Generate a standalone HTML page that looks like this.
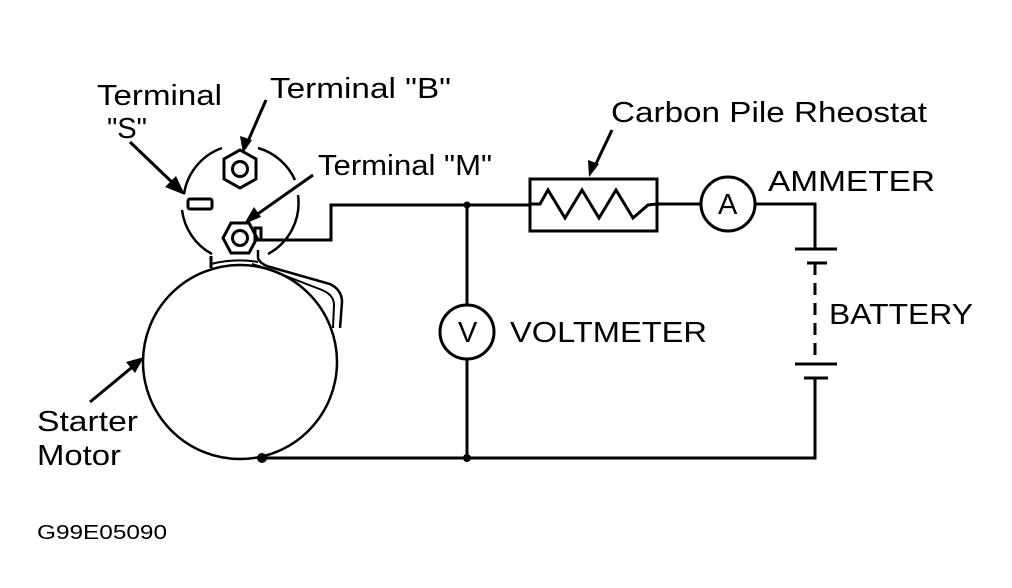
<!DOCTYPE html>
<html><head><style>
html,body{margin:0;padding:0;background:#fff;}
svg{display:block;}
text{font-family:"Liberation Sans",sans-serif;font-size:29px;fill:#000;}
</style></head><body>
<svg width="1012" height="588" viewBox="0 0 1012 588" xmlns="http://www.w3.org/2000/svg">
<g fill="none" stroke="#000" stroke-width="3">
<circle cx="240" cy="362" r="97" stroke-width="2.5"/>
<circle cx="262" cy="458" r="5" fill="#000" stroke="none"/>
<path d="M184,194 A58,58 0 0,1 222,148" stroke-width="2.5"/>
<path d="M258,148 A58,58 0 0,1 295,180" stroke-width="2.5"/>
<path d="M298,195 A58,58 0 0,1 268,254" stroke-width="2.5"/>
<path d="M212,254 A58,58 0 0,1 182,210" stroke-width="2.5"/>
<line x1="211" y1="256" x2="211" y2="268"/>
<path d="M211,264 Q235,258 258,262" stroke-width="2"/>
<path d="M258,250 L258,258 Q260,264 270,267 L330,284 Q342,290 342,302 L340,328" stroke-width="2.5"/>
<path d="M252,264 L265,268 L322,290 Q334,295 334,305 L333,328" stroke-width="2"/>
<rect x="188" y="199" width="24" height="10" rx="2"/>
<polygon points="240,150 256,159 256,179 240,188 224,179 224,159"/>
<circle cx="240" cy="169" r="7.5"/>
<polygon points="223,238 231,223 249,223 257,238 249,253 231,253"/>
<circle cx="240" cy="238" r="7.5"/>
<rect x="255" y="228" width="6" height="12"/>
<polyline points="259,240 331,240 331,205 530,205"/>
<rect x="530" y="179" width="127" height="52"/>
<polyline points="530,204 540,204 548,190 565,218 582,190 599,218 616,190 633,218 648,205 657,204"/>
<line x1="657" y1="204" x2="700" y2="204"/>
<circle cx="728" cy="204" r="27"/>
<polyline points="755,204 815,204 815,249"/>
<line x1="795" y1="249" x2="837" y2="249"/>
<line x1="807" y1="263" x2="827" y2="263"/>
<line x1="815" y1="263" x2="815" y2="358" stroke-dasharray="12,8"/>
<line x1="795" y1="364" x2="837" y2="364"/>
<line x1="804" y1="378" x2="828" y2="378"/>
<polyline points="815,378 815,458 262,458"/>
<line x1="467" y1="205" x2="467" y2="304"/>
<circle cx="467" cy="332" r="27"/>
<line x1="467" y1="360" x2="467" y2="458"/>
<circle cx="467" cy="458" r="2.5" fill="#000"/>
<circle cx="467" cy="205" r="2" fill="#000"/>
<line x1="130" y1="142" x2="176" y2="186"/>
<line x1="266" y1="100" x2="245" y2="148"/>
<line x1="313" y1="175" x2="252" y2="218"/>
<line x1="612" y1="130" x2="594" y2="168"/>
<line x1="90" y1="402" x2="136" y2="364"/>
</g>
<g fill="#000">
<polygon points="185,195 165,187 176,176"/>
<polygon points="243,153 240,136 252,140"/>
<polygon points="244,224 254,207 261,217"/>
<polygon points="589,177 588,160 599,164"/>
<polygon points="144,357 126,362 135,373"/>
</g>
<text x="97" y="105" textLength="125" lengthAdjust="spacingAndGlyphs">Terminal</text>
<text x="107" y="138" textLength="40" lengthAdjust="spacingAndGlyphs">"S"</text>
<text x="270" y="98" textLength="181" lengthAdjust="spacingAndGlyphs">Terminal "B"</text>
<text x="318" y="175" textLength="174" lengthAdjust="spacingAndGlyphs">Terminal "M"</text>
<text x="611" y="122" textLength="316" lengthAdjust="spacingAndGlyphs">Carbon Pile Rheostat</text>
<text x="768" y="191" textLength="167" lengthAdjust="spacingAndGlyphs">AMMETER</text>
<text x="829" y="324" textLength="144" lengthAdjust="spacingAndGlyphs">BATTERY</text>
<text x="510" y="342" textLength="197" lengthAdjust="spacingAndGlyphs">VOLTMETER</text>
<text x="718" y="214" font-size="26">A</text>
<text x="458" y="342" font-size="26">V</text>
<text x="37" y="431" textLength="101" lengthAdjust="spacingAndGlyphs">Starter</text>
<text x="37" y="465" textLength="84" lengthAdjust="spacingAndGlyphs">Motor</text>
<text x="37" y="539" style="font-size:20px" textLength="130" lengthAdjust="spacingAndGlyphs">G99E05090</text>
</svg>
</body></html>
